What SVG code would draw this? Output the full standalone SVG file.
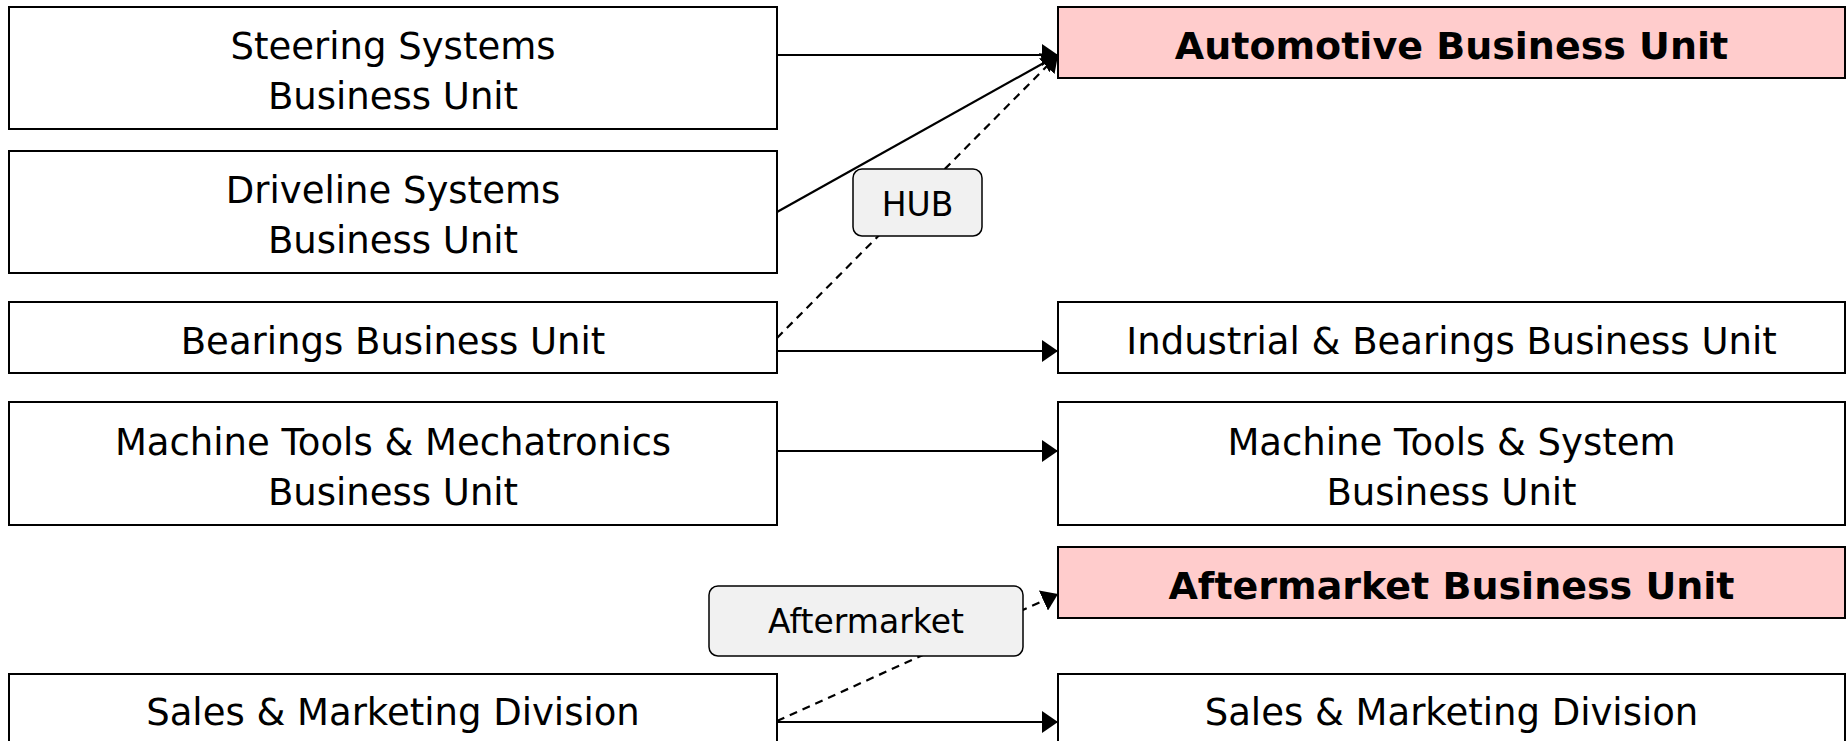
<svg xmlns="http://www.w3.org/2000/svg" width="1847" height="741" viewBox="0 0 1847 741">
<style>
  .box { fill: #ffffff; stroke: #000000; stroke-width: 2; }
  .hl { fill: #ffcccc; stroke: #000000; stroke-width: 2; }
  .lbl { fill: #f1f1f1; stroke: #000000; stroke-width: 1.5; }
  text { font-family: "DejaVu Sans", Verdana, sans-serif; font-size: 37px; fill: #000000; text-anchor: middle; }
  .b { font-weight: bold; font-size: 38px; }
  .ls { font-size: 33px; }
  .edge { fill: none; stroke: #000000; stroke-width: 2.2; }
  .dash { stroke-dasharray: 8 6; }
</style>
<defs>
  <marker id="arr" markerUnits="userSpaceOnUse" markerWidth="16" markerHeight="22" refX="16" refY="11" orient="auto">
    <path d="M0,0 L16,11 L0,22 z" fill="#000000"/>
  </marker>
</defs>
<rect width="1847" height="741" fill="#ffffff"/>

<g id="connectors">
  <line class="edge" x1="777" y1="55" x2="1058" y2="55" marker-end="url(#arr)"/>
  <line class="edge" x1="777" y1="212" x2="1058" y2="55" marker-end="url(#arr)"/>
  <line class="edge dash" x1="777" y1="338" x2="1058" y2="55" marker-end="url(#arr)"/>
  <line class="edge" x1="777" y1="351" x2="1058" y2="351" marker-end="url(#arr)"/>
  <line class="edge" x1="777" y1="451" x2="1058" y2="451" marker-end="url(#arr)"/>
  <line class="edge dash" x1="777" y1="721" x2="1058" y2="594" marker-end="url(#arr)"/>
  <line class="edge" x1="777" y1="722" x2="1058" y2="722" marker-end="url(#arr)"/>
  <g id="label-hub">
    <rect class="lbl" x="853" y="169" width="129" height="67" rx="9"/>
    <text class="ls" x="917.5" y="216">HUB</text>
  </g>
  <g id="label-aftermarket">
    <rect class="lbl" x="709" y="586" width="314" height="70" rx="9"/>
    <text class="ls" x="866" y="633">Aftermarket</text>
  </g>
</g>

<g id="steering">
  <rect class="box" x="9" y="7" width="768" height="122"/>
  <text x="393" y="58.5">Steering Systems</text>
  <text x="393" y="109">Business Unit</text>
</g>
<g id="driveline">
  <rect class="box" x="9" y="151" width="768" height="122"/>
  <text x="393" y="202.5">Driveline Systems</text>
  <text x="393" y="253">Business Unit</text>
</g>
<g id="bearings">
  <rect class="box" x="9" y="302" width="768" height="71"/>
  <text x="393" y="354">Bearings Business Unit</text>
</g>
<g id="machine-mech">
  <rect class="box" x="9" y="402" width="768" height="123"/>
  <text x="393" y="455">Machine Tools &amp; Mechatronics</text>
  <text x="393" y="505">Business Unit</text>
</g>
<g id="sales-left">
  <rect class="box" x="9" y="674" width="768" height="71"/>
  <text x="393" y="725">Sales &amp; Marketing Division</text>
</g>

<g id="automotive">
  <rect class="hl" x="1058" y="7" width="787" height="71"/>
  <text class="b" x="1451.5" y="58.5">Automotive Business Unit</text>
</g>
<g id="industrial">
  <rect class="box" x="1058" y="302" width="787" height="71"/>
  <text x="1451.5" y="354">Industrial &amp; Bearings Business Unit</text>
</g>
<g id="machine-system">
  <rect class="box" x="1058" y="402" width="787" height="123"/>
  <text x="1451.5" y="455">Machine Tools &amp; System</text>
  <text x="1451.5" y="505">Business Unit</text>
</g>
<g id="aftermarket">
  <rect class="hl" x="1058" y="547" width="787" height="71"/>
  <text class="b" x="1451.5" y="599">Aftermarket Business Unit</text>
</g>
<g id="sales-right">
  <rect class="box" x="1058" y="674" width="787" height="71"/>
  <text x="1451.5" y="725">Sales &amp; Marketing Division</text>
</g>
</svg>
